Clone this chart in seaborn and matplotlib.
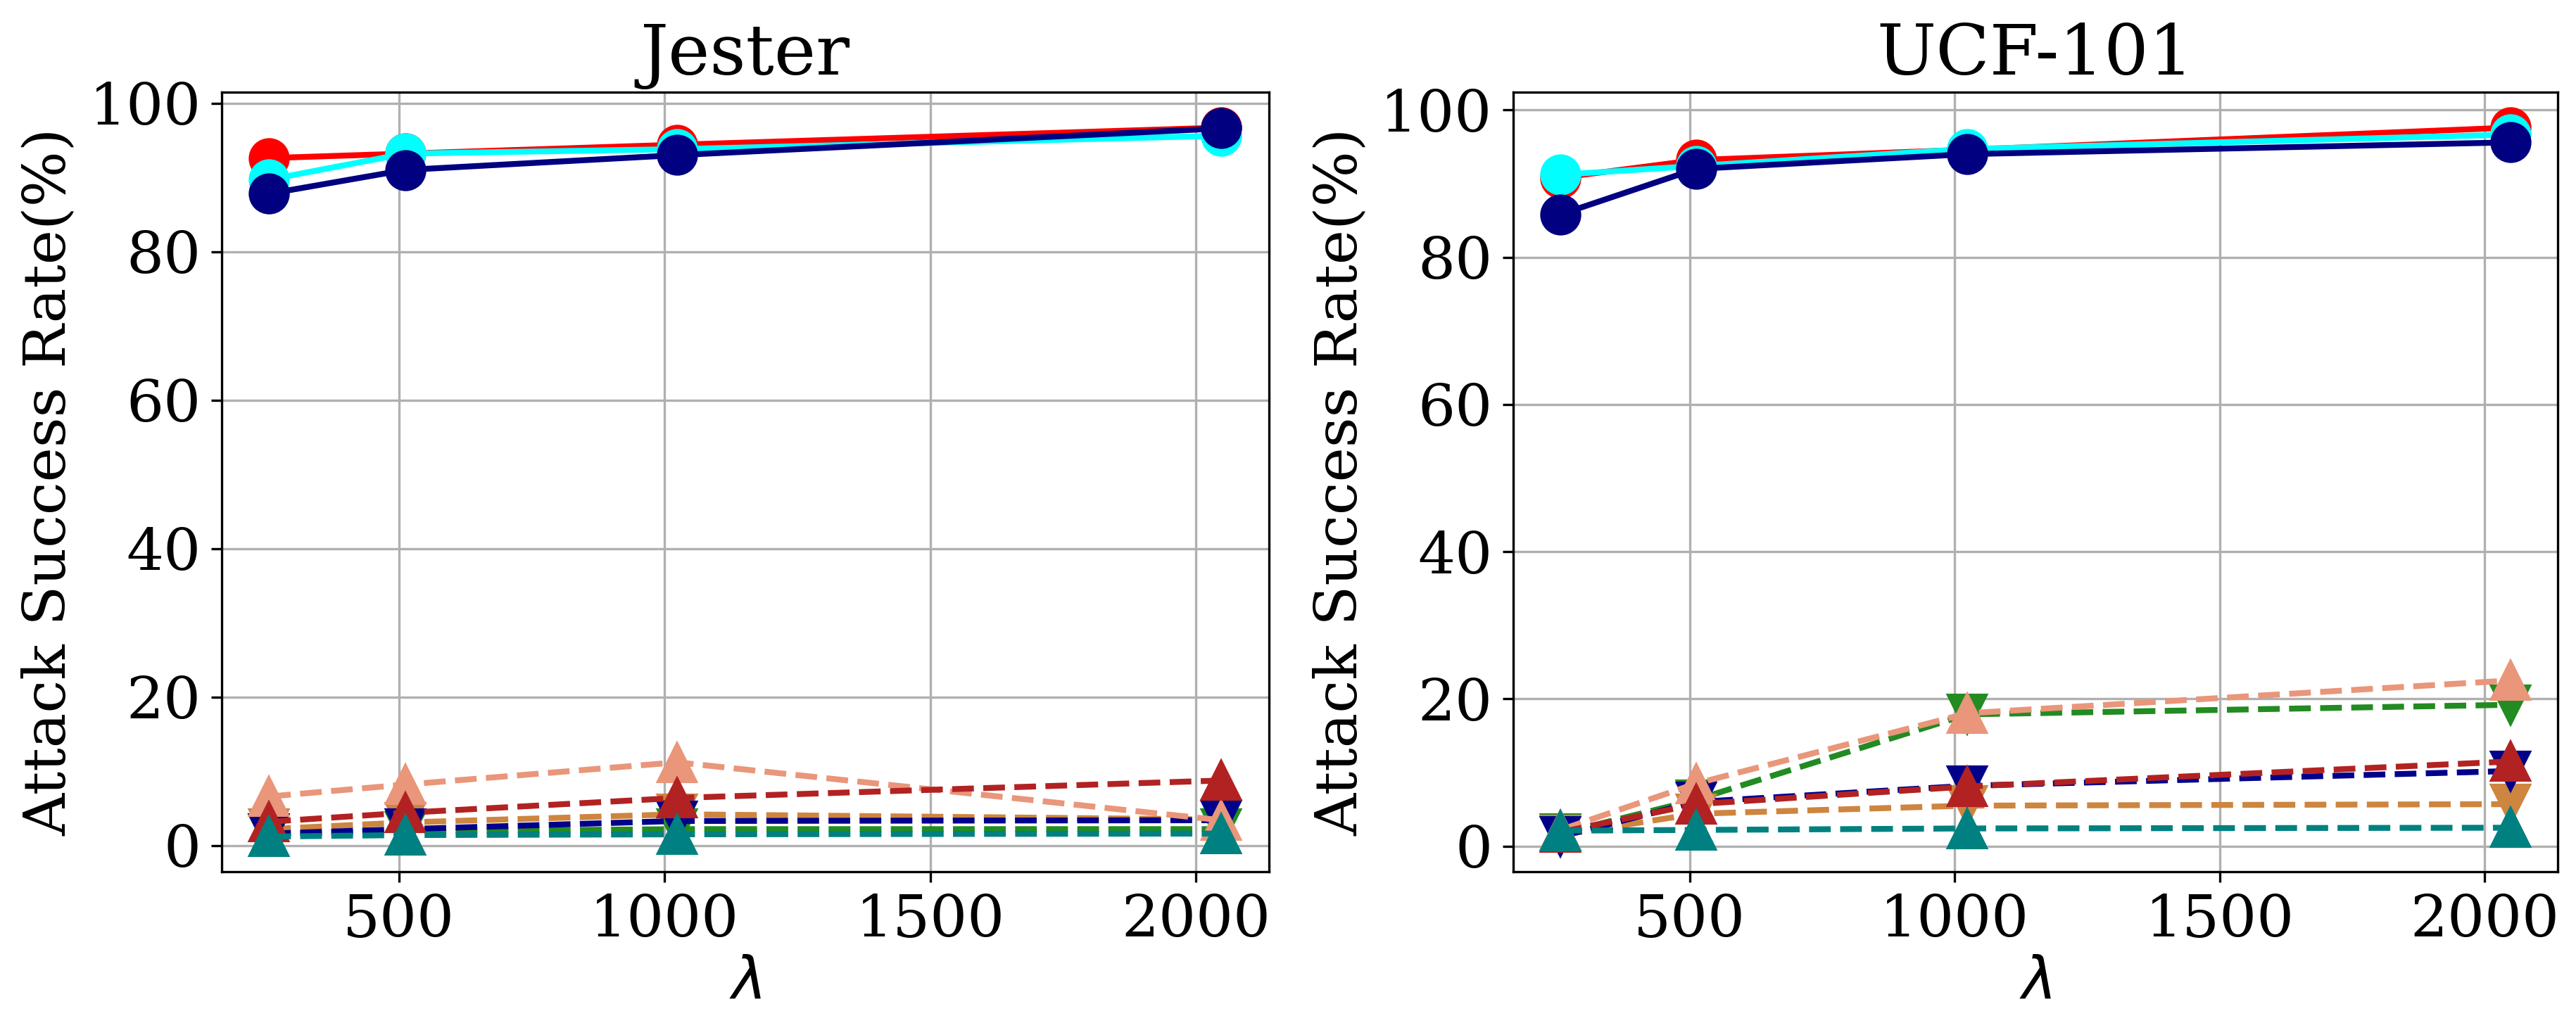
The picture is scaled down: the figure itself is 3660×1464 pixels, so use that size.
import matplotlib
matplotlib.use('Agg')
import matplotlib.pyplot as plt
import seaborn as sns

plt.rcParams['font.family'] = ['DejaVu Serif']

# x values (lambda)
lam = [256, 512, 1024, 2048]

# ------------------------------------------
# Jester
# ------------------------------------------
jester_red = [92.6, 93.2, 94.4, 96.7]
jester_cyan = [89.7, 93.2, 93.8, 95.6]
jester_navy = [87.8, 91.0, 93.0, 96.6]
jester_green = [1.5, 1.9, 2.2, 2.2]
jester_peru = [2.2, 3.1, 4.2, 3.5]
jester_darkblue = [1.6, 2.2, 3.3, 3.4]
jester_salmon = [6.6, 8.2, 11.2, 3.4]
jester_firebrick = [3.2, 4.4, 6.4, 8.75]
jester_teal = [1.2, 1.4, 1.5, 1.6]

# ------------------------------------------
# UCF-101
# ------------------------------------------
ucf_red = [90.8, 93.2, 94.6, 97.6]
ucf_cyan = [91.2, 92.4, 94.7, 96.65]
ucf_navy = [85.8, 92.0, 94.0, 95.6]
ucf_green = [1.7, 6.3, 17.9, 19.2]
ucf_peru = [1.5, 4.4, 5.5, 5.7]
ucf_darkblue = [1.3, 6.0, 8.2, 10.2]
ucf_salmon = [2.2, 8.5, 18.05, 22.5]
ucf_firebrick = [1.9, 5.7, 8.1, 11.5]
ucf_teal = [2.1, 2.2, 2.4, 2.5]

# (color, marker, linestyle) in drawing order
styles = [
    ('red', 'o', '-'),
    ('cyan', 'o', '-'),
    ('navy', 'o', '-'),
    ('forestgreen', 'v', '--'),
    ('peru', 'v', '--'),
    ('darkblue', 'v', '--'),
    ('darksalmon', '^', '--'),
    ('firebrick', '^', '--'),
    ('teal', '^', '--'),
]

panels = [
    ('Jester', [jester_red, jester_cyan, jester_navy, jester_green, jester_peru,
                jester_darkblue, jester_salmon, jester_firebrick, jester_teal]),
    ('UCF-101', [ucf_red, ucf_cyan, ucf_navy, ucf_green, ucf_peru,
                 ucf_darkblue, ucf_salmon, ucf_firebrick, ucf_teal]),
]

fig = plt.figure(figsize=(12.2, 4.88), dpi=300)
axes = [fig.add_axes([0.0860, 0.1534, 0.4066, 0.7571]),
        fig.add_axes([0.5873, 0.1534, 0.4056, 0.7571])]

for ax, (title, series) in zip(axes, panels):
    for vals, (c, m, ls) in zip(series, styles):
        sns.lineplot(x=lam, y=vals, ax=ax, color=c, marker=m, markersize=13,
                     markeredgecolor=c, markeredgewidth=1.0,
                     linestyle=ls, linewidth=2)
    ax.grid(True)
    ax.set_title(title, fontsize=24)
    ax.set_xlabel(r'$\lambda$', fontsize=20, labelpad=2)
    ax.set_ylabel('Attack Success Rate(%)', fontsize=20, labelpad=4)
    ax.tick_params(labelsize=20)
    ax.set_xticks([500, 1000, 1500, 2000])
    ax.set_yticks([0, 20, 40, 60, 80, 100])

fig.savefig('out.png', dpi=300)
